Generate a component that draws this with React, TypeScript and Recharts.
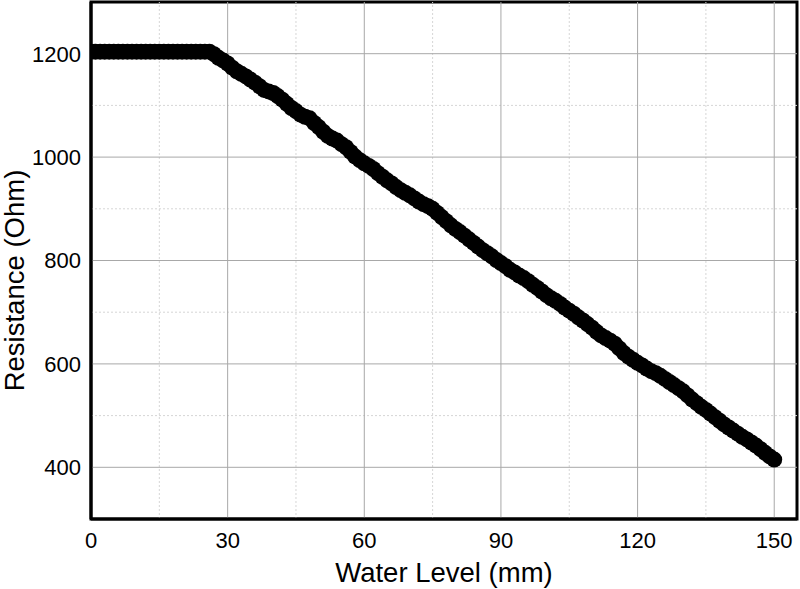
import React from "react";
import { LineChart, Line, XAxis, YAxis, ReferenceLine, ReferenceArea } from "recharts";

const waterLevel = [
  0, 1, 2, 3, 4, 5, 6, 7, 8, 9, 10, 11, 12, 13, 14, 15, 16, 17, 18, 19, 20,
  21, 22, 23, 24, 25, 26, 27, 28, 29, 30, 31, 32, 33, 34, 35, 36, 37, 38, 39, 40,
  41, 42, 43, 44, 45, 46, 47, 48, 49, 50, 51, 52, 53, 54, 55, 56, 57, 58, 59, 60,
  61, 62, 63, 64, 65, 66, 67, 68, 69, 70, 71, 72, 73, 74, 75, 76, 77, 78, 79, 80,
  81, 82, 83, 84, 85, 86, 87, 88, 89, 90, 91, 92, 93, 94, 95, 96, 97, 98, 99, 100,
  101, 102, 103, 104, 105, 106, 107, 108, 109, 110, 111, 112, 113, 114, 115, 116, 117, 118, 119, 120,
  121, 122, 123, 124, 125, 126, 127, 128, 129, 130, 131, 132, 133, 134, 135, 136, 137, 138, 139, 140,
  141, 142, 143, 144, 145, 146, 147, 148, 149, 150,
];

const resistance = [
  1204, 1204, 1204, 1204, 1204, 1204, 1204, 1204, 1204, 1204, 1204,
  1204, 1204, 1204, 1204, 1204, 1204, 1204, 1204, 1204, 1204,
  1204, 1204, 1204, 1204, 1204, 1204, 1199, 1192, 1187, 1181,
  1173, 1166, 1161, 1156, 1150, 1144, 1137, 1130, 1127, 1124,
  1118, 1111, 1103, 1095, 1089, 1082, 1078, 1075, 1066, 1058,
  1049, 1041, 1036, 1032, 1025, 1019, 1010, 1001, 994, 988,
  983, 977, 969, 962, 955, 949, 942, 936, 931, 926,
  920, 914, 909, 905, 900, 892, 884, 876, 868, 861,
  855, 848, 841, 834, 827, 820, 814, 808, 801, 795,
  789, 782, 777, 771, 766, 760, 753, 747, 740, 733,
  727, 722, 716, 709, 703, 697, 690, 684, 677, 670,
  662, 655, 650, 645, 639, 630, 621, 614, 608, 602,
  597, 591, 586, 582, 577, 571, 565, 559, 553, 547,
  539, 531, 524, 517, 511, 504, 497, 490, 483, 477,
  471, 465, 459, 454, 448, 442, 435, 428, 421, 415,
];

const xTicks = [0, 30, 60, 90, 120, 150];
const yTicks = [400, 600, 800, 1000, 1200];
const majorX = [30, 60, 90, 120, 150];
const minorX = [15, 45, 75, 105, 135];
const majorY = [400, 600, 800, 1000, 1200];
const minorY = [500, 700, 900, 1100];

const data = waterLevel.map((w, i) => ({ w, r: resistance[i] }));

const FONT = "'Liberation Sans', Arial, sans-serif";

export default function App() {
  return (
    <div style={{ position: "absolute", left: 0, top: 0, width: 800, height: 589, background: "#fff" }}>
      <LineChart width={800} height={589} data={data} margin={{ top: 2, right: 3, bottom: 0, left: 0 }}>
        <XAxis
          dataKey="w"
          type="number"
          domain={[0, 155]}
          allowDataOverflow
          ticks={xTicks}
          tickLine={false}
          tickSize={0}
          tickMargin={13}
          height={70}
          axisLine={{ stroke: "#000", strokeWidth: 3 }}
          tick={{ fill: "#000", fontSize: 22, fontFamily: FONT }}
          label={{ value: "Water Level (mm)", position: "center", dy: 18, fill: "#000", fontSize: 27.5, fontFamily: FONT }}
        />
        <YAxis
          type="number"
          domain={[300, 1300]}
          allowDataOverflow
          ticks={yTicks}
          tickLine={false}
          tickSize={0}
          tickMargin={10}
          width={91}
          axisLine={{ stroke: "#000", strokeWidth: 3 }}
          tick={{ fill: "#000", fontSize: 22, fontFamily: FONT }}
          label={{ value: "Resistance (Ohm)", angle: -90, position: "center", dx: -31, dy: 20, fill: "#000", fontSize: 27.5, fontFamily: FONT }}
        />
        {minorX.map((v) => (
          <ReferenceLine key={"mx" + v} x={v} stroke="#d6d6d6" strokeDasharray="2 2" strokeWidth={1} />
        ))}
        {minorY.map((v) => (
          <ReferenceLine key={"my" + v} y={v} stroke="#d6d6d6" strokeDasharray="2 2" strokeWidth={1} />
        ))}
        {majorX.map((v) => (
          <ReferenceLine key={"Mx" + v} x={v} stroke="#a8a8a8" strokeWidth={1} />
        ))}
        {majorY.map((v) => (
          <ReferenceLine key={"My" + v} y={v} stroke="#a8a8a8" strokeWidth={1} />
        ))}
        <Line
          dataKey="r"
          stroke="#000"
          strokeWidth={1}
          dot={{ r: 8, fill: "#000", stroke: "none" }}
          activeDot={false}
          isAnimationActive={false}
        />
        <ReferenceArea x1={0} x2={155} y1={300} y2={1300} fill="none" fillOpacity={0} stroke="#000" strokeWidth={3} ifOverflow="visible" />
      </LineChart>
    </div>
  );
}
